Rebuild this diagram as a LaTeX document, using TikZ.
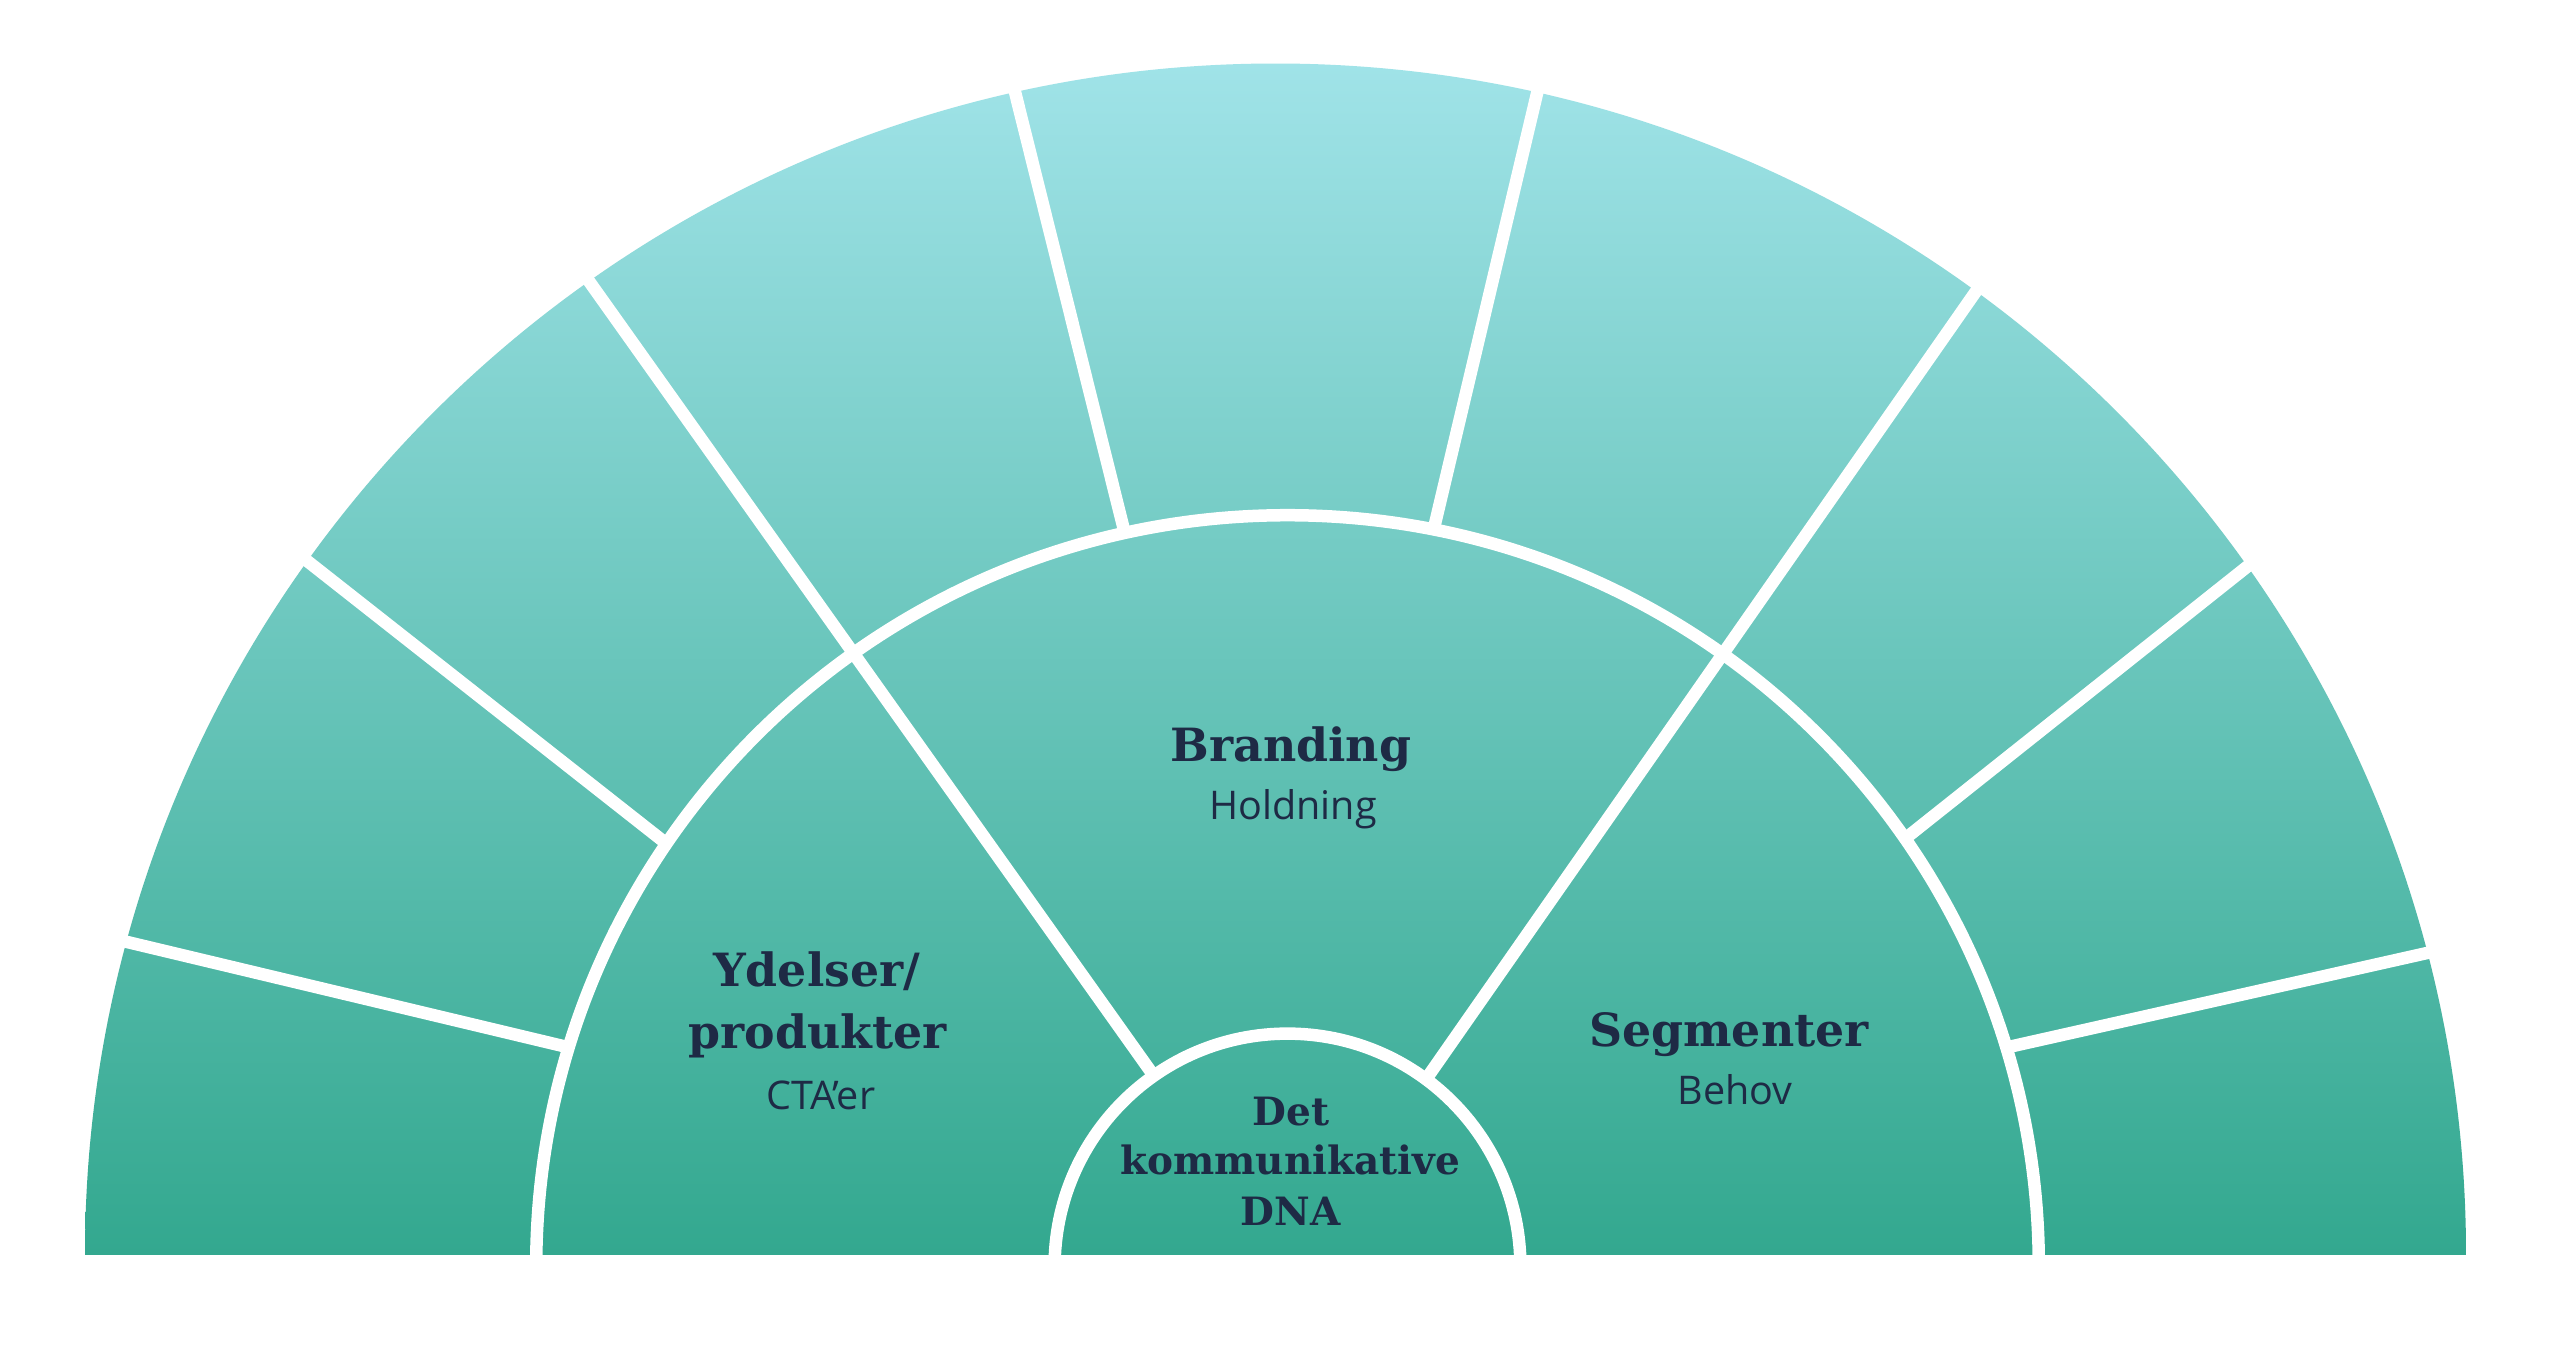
\documentclass[tikz,border=0pt]{standalone}
\usepackage{fontspec}
\setmainfont{Open Sans}
\newfontfamily\hdfont{DejaVu Serif}
\usetikzlibrary{calc}
\definecolor{gtop}{HTML}{A0E3E8}
\definecolor{gbot}{HTML}{33A88F}
\definecolor{ink}{HTML}{1E2A45}
\begin{document}
\begin{tikzpicture}[x=1pt,y=-1pt,
  sep/.style={draw=white,line width=12.5pt},
  head/.style={font=\hdfont\bfseries\fontsize{45.8}{50}\selectfont, text=ink, anchor=base, inner sep=0pt},
  headsm/.style={font=\hdfont\bfseries\fontsize{39}{44}\selectfont, text=ink, anchor=base, inner sep=0pt},
  sub/.style={font=\fontsize{39.5}{44}\selectfont, text=ink, anchor=base, inner sep=0pt}]
\useasboundingbox[fill=white] (0,0) rectangle (2553,1350);
\coordinate (O) at (1275.5,1254);
\coordinate (C) at (1287.5,1266.5);
% gradient semicircle
\begin{scope}
  \clip (O) circle[radius=1190.5];
  \shade[top color=gtop,bottom color=gbot] (85,63.5) rectangle (2466,1254);
\end{scope}
% rings
\draw[sep] (C) circle[radius=751.3];
\draw[sep] (C) circle[radius=232.9];
% line end points
\coordinate (a1) at (126,941.7);   \coordinate (b1) at (563,1046);
\coordinate (a2) at (306,560);     \coordinate (b2) at (664,841.7);
\coordinate (a4) at (1015,92);     \coordinate (b4) at (1123,526);
\coordinate (a5) at (1537,93.5);   \coordinate (b5) at (1434,528);
\coordinate (a7) at (2246.7,567);  \coordinate (b7) at (1910,834.7);
\coordinate (a8) at (2427,953);    \coordinate (b8) at (2013,1046);
\coordinate (a3) at (589.3,281.6); \coordinate (b3) at (1149.4,1069.6);
\coordinate (a6) at (1974.8,293);  \coordinate (b6) at (1430,1073.5);
% outer-ring dividers
\begin{scope}[even odd rule]
  \clip (0,0) rectangle (2553,1350) (C) circle[radius=751.3];
  \foreach \i in {1,2,4,5,7,8}{
    \draw[sep] ($(a\i)!-0.3!(b\i)$) -- ($(a\i)!1.3!(b\i)$);
  }
\end{scope}
% long dividers through middle ring
\begin{scope}[even odd rule]
  \clip (0,0) rectangle (2553,1350) (C) circle[radius=232.9];
  \foreach \i in {3,6}{
    \draw[sep] ($(a\i)!-0.3!(b\i)$) -- ($(a\i)!1.3!(b\i)$);
  }
\end{scope}
% labels
\node[head] (brand) at (1291,761.7) {Branding};
\node[sub]  (hold)  at (1293,819.3) {Holdning};
\node[head] (ydel)  at (816.7,986.7) {Ydelser/};
\node[head] (prod)  at (817.5,1048.3) {produkter};
\node[sub]  (cta)   at (820.8,1109.3) {CTA’er};
\node[head] (seg)   at (1729,1046.7) {Segmenter};
\node[sub]  (beh)   at (1735,1104) {Behov};
\node[headsm] (det) at (1291,1125) {Det};
\node[headsm] (kom) at (1290,1174.3) {kommunikative};
\node[headsm] (dna) at (1290.8,1225) {DNA};
\end{tikzpicture}
\end{document}
